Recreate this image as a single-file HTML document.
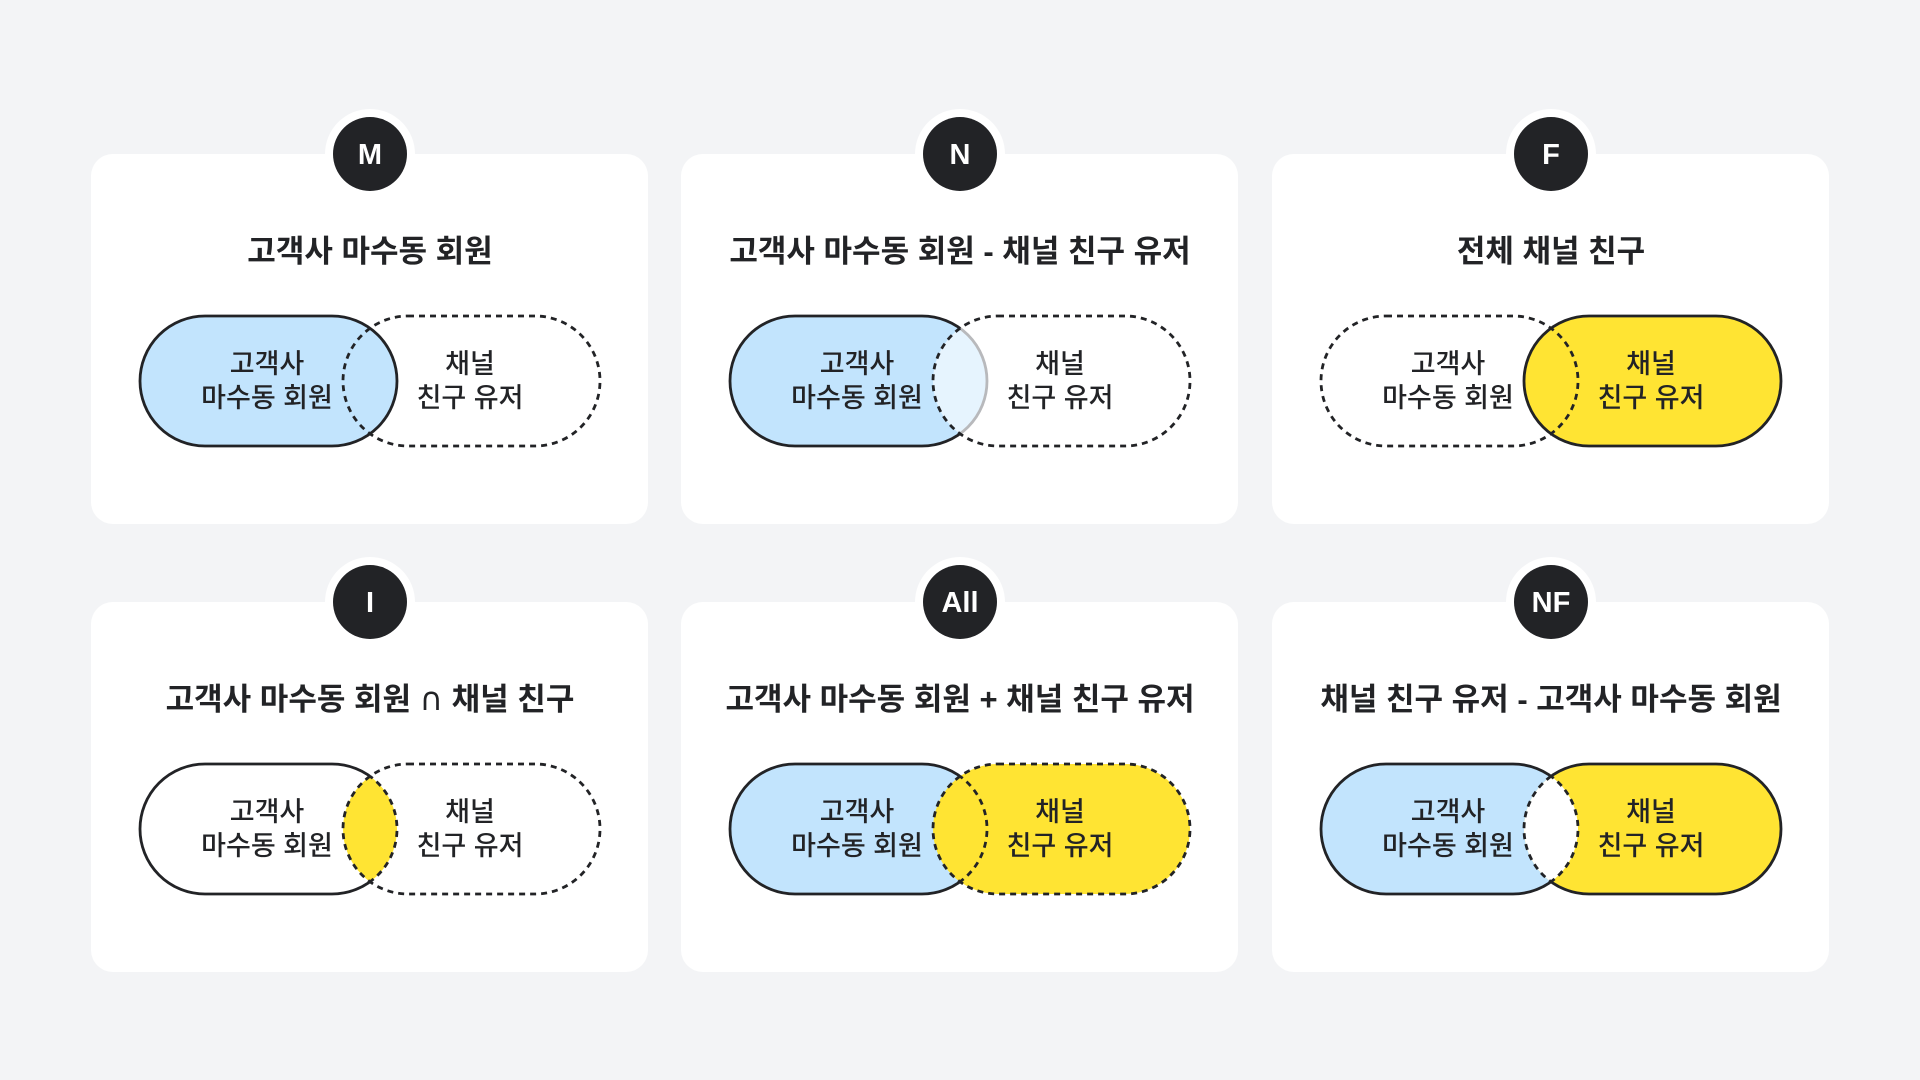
<!DOCTYPE html>
<html><head><meta charset="utf-8"><style>
html,body{margin:0;padding:0;background:#f3f4f6;}
svg{display:block;}
text{font-family:"Liberation Sans","Noto Sans CJK KR",sans-serif;fill:#222326;}
.t{font-size:31px;font-weight:700;text-anchor:middle;}
.p{font-size:27px;font-weight:500;text-anchor:middle;}
.b{font-size:29px;font-weight:700;text-anchor:middle;fill:#fff;}
.s{fill:none;stroke:#222326;stroke-width:2.8;}
.d{fill:none;stroke:#222326;stroke-width:2.8;stroke-dasharray:6 5;}
</style></head><body>
<svg width="1920" height="1080" viewBox="0 0 1920 1080" xmlns="http://www.w3.org/2000/svg">
<defs>
<rect id="L" x="49" y="162" width="257" height="130" rx="65"/>
<rect id="R" x="252" y="162" width="257" height="130" rx="65"/>
<clipPath id="cL"><use href="#L"/></clipPath>
<clipPath id="cR"><use href="#R"/></clipPath>
<mask id="nL" maskUnits="userSpaceOnUse" x="-50" y="-60" width="700" height="500"><rect x="-50" y="-60" width="700" height="500" fill="#fff"/><use href="#L" fill="#000"/></mask>
<mask id="nR" maskUnits="userSpaceOnUse" x="-50" y="-60" width="700" height="500"><rect x="-50" y="-60" width="700" height="500" fill="#fff"/><use href="#R" fill="#000"/></mask>
<g id="card">
<rect x="0" y="0" width="557" height="370" rx="22" fill="#fff"/>
<circle cx="279" cy="0" r="45" fill="#fff"/>
<circle cx="279" cy="0" r="37" fill="#222326"/>
</g>
<g id="lbl">
<text class="p" x="176" y="219">고객사</text>
<text class="p" x="176" y="253">마수동 회원</text>
<text class="p" x="379" y="219">채널</text>
<text class="p" x="379" y="253">친구 유저</text>
</g>
</defs>

<g transform="translate(91,154)">
<use href="#card"/><text class="b" x="279" y="10">M</text>
<text class="t" x="279" y="108">고객사 마수동 회원</text>
<use href="#L" fill="#c2e4fd"/><use href="#L" class="s"/>
<use href="#R" class="d"/>
<use href="#lbl"/>
</g>

<g transform="translate(681,154)">
<use href="#card"/><text class="b" x="279" y="10">N</text>
<text class="t" x="279" y="108">고객사 마수동 회원 - 채널 친구 유저</text>
<use href="#L" fill="#c2e4fd"/>
<g clip-path="url(#cR)"><use href="#L" fill="#e6f4fe"/></g>
<g mask="url(#nR)"><use href="#L" class="s"/></g>
<g clip-path="url(#cR)"><use href="#L" fill="none" stroke="#b8b9bc" stroke-width="2.8"/></g>
<use href="#R" class="d"/>
<use href="#lbl"/>
</g>

<g transform="translate(1272,154)">
<use href="#card"/><text class="b" x="279" y="10">F</text>
<text class="t" x="279" y="108">전체 채널 친구</text>
<use href="#R" fill="#ffe433"/><use href="#R" class="s"/>
<use href="#L" class="d"/>
<use href="#lbl"/>
</g>

<g transform="translate(91,602)">
<use href="#card"/><text class="b" x="279" y="10">I</text>
<text class="t" x="279" y="108">고객사 마수동 회원 <tspan style="font-family:'DejaVu Sans',sans-serif;font-size:32px;font-weight:400">∩</tspan> 채널 친구</text>
<g clip-path="url(#cR)"><use href="#L" fill="#ffe433"/></g>
<g mask="url(#nR)"><use href="#L" class="s"/></g>
<g clip-path="url(#cR)"><use href="#L" class="d"/></g>
<use href="#R" class="d"/>
<use href="#lbl"/>
</g>

<g transform="translate(681,602)">
<use href="#card"/><text class="b" x="279" y="10">All</text>
<text class="t" x="279" y="108">고객사 마수동 회원 + 채널 친구 유저</text>
<use href="#L" fill="#c2e4fd"/><use href="#L" class="s"/>
<use href="#R" fill="#ffe433"/>
<g clip-path="url(#cR)"><use href="#L" class="d"/></g>
<use href="#R" class="d"/>
<use href="#lbl"/>
</g>

<g transform="translate(1272,602)">
<use href="#card"/><text class="b" x="279" y="10">NF</text>
<text class="t" x="279" y="108">채널 친구 유저 - 고객사 마수동 회원</text>
<use href="#L" fill="#c2e4fd"/><use href="#R" fill="#ffe433"/>
<g clip-path="url(#cR)"><use href="#L" fill="#fff"/></g>
<g mask="url(#nR)"><use href="#L" class="s"/></g>
<g mask="url(#nL)"><use href="#R" class="s"/></g>
<g clip-path="url(#cR)"><use href="#L" class="d"/></g>
<g clip-path="url(#cL)"><use href="#R" class="d"/></g>
<use href="#lbl"/>
</g>
</svg>
</body></html>
